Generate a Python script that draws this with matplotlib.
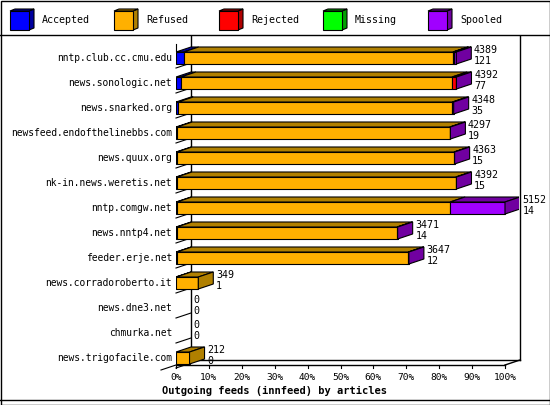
import matplotlib
matplotlib.use("Agg")
import matplotlib.pyplot as plt
from matplotlib.patches import Polygon, Rectangle

hosts = ["nntp.club.cc.cmu.edu", "news.sonologic.net", "news.snarked.org",
         "newsfeed.endofthelinebbs.com", "news.quux.org", "nk-in.news.weretis.net",
         "nntp.comgw.net", "news.nntp4.net", "feeder.erje.net",
         "news.corradoroberto.it", "news.dne3.net", "chmurka.net", "news.trigofacile.com"]
offered = [4389, 4392, 4348, 4297, 4363, 4392, 5152, 3471, 3647, 349, 0, 0, 212]
accepted = [121, 77, 35, 19, 15, 15, 14, 14, 12, 1, 0, 0, 0]
rejected = [10, 60, 0, 0, 0, 0, 0, 0, 0, 0, 0, 0, 0]
missing = [0] * 13
spooled = [43, 10, 20, 10, 10, 10, 860, 10, 10, 0, 0, 0, 0]
refused = [o - a - r - m - s for o, a, r, m, s in zip(offered, accepted, rejected, missing, spooled)]

names = ["Accepted", "Refused", "Rejected", "Missing", "Spooled"]
front = ["#0000ff", "#ffb000", "#ff0000", "#00ff00", "#a000ff"]
dark = ["#0000a0", "#b08000", "#b00000", "#00a000", "#7000a0"]
xticks = list(range(0, 101, 10))

W, H = 550, 405
fig = plt.figure(figsize=(W / 100, H / 100), dpi=100)
fig.patch.set_facecolor("white")
mono = "DejaVu Sans Mono"

pa = fig.add_axes([0, 0, 1, 1])
pa.set_xlim(0, W); pa.set_ylim(H, 0); pa.axis("off")
pa.add_patch(Rectangle((0.5, 0.5), W - 1, H - 1, fill=False, ec="black", lw=1))
pa.plot([0, W], [35, 35], color="black", lw=1)
pa.plot([0, W], [400, 400], color="black", lw=1)
lx = [10, 114, 219, 323, 428]
for i in range(5):
    x0, y0, s, d = lx[i], 11, 19, 5
    pa.add_patch(Polygon([(x0 + s, y0), (x0 + s + d, y0 - 2), (x0 + s + d, y0 + s - 2), (x0 + s, y0 + s)],
                         fc=dark[i], ec="black", lw=0.8))
    pa.add_patch(Polygon([(x0, y0), (x0 + d, y0 - 2), (x0 + s + d, y0 - 2), (x0 + s, y0)],
                         fc=dark[i], ec="black", lw=0.8))
    pa.add_patch(Rectangle((x0, y0), s, s, fc=front[i], ec="black", lw=0.8))
    pa.text(x0 + 32, 20, names[i], family=mono, fontsize=7.2, va="center")
pa.text(275, 391, "Outgoing feeds (innfeed) by articles", family=mono, fontsize=7.5,
        fontweight="bold", ha="center", va="center")

x_left, x_right = 176, 519
top_px, bot_px = 40, 365
ax = fig.add_axes([x_left / W, 1 - bot_px / H, (x_right - x_left) / W, (bot_px - top_px) / H])
pxpp = 3.29
ax.set_xlim(0, (x_right - x_left) / pxpp)
ax.set_ylim((bot_px - 58) / 25, (top_px - 58) / 25)
ax.axis("off")
ax.patch.set_alpha(0)
dx, dy = 15 / pxpp, 5 / 25
n = len(hosts)
mx = max(offered)

yb = (365 - 58) / 25
ytop = (36 - 58) / 25
ax.plot([dx, dx], [ytop, yb - dy], color="black", lw=1, clip_on=False)
ax.plot([100 + dx, 100 + dx], [ytop, yb - dy], color="black", lw=1, clip_on=False)
ax.plot([0, 100], [yb, yb], color="black", lw=1, clip_on=False)
ax.plot([dx, 100 + dx], [yb - dy, yb - dy], color="black", lw=1, clip_on=False)
ax.plot([100, 100 + dx], [yb, yb - dy], color="black", lw=1, clip_on=False)
ax.plot([-dx, dx], [yb + dy, yb - dy], color="black", lw=0.8, clip_on=False)
ax.plot([0, 0], [ytop + 0.3, -0.3], color="black", lw=0.8, clip_on=False)
for k in range(n):
    yy = k + 0.4
    ax.plot([0, dx], [yy, yy - dy], color="black", lw=0.8, clip_on=False)
for t in xticks:
    ax.plot([t, t], [yb, yb + 0.12], color="black", lw=0.8, clip_on=False)
    ax.text(t, yb + 0.5, f"{t}%", family=mono, fontsize=6.8, ha="center", va="center")

h = 0.48
for i in range(n):
    segs = [accepted[i], refused[i], rejected[i], missing[i], spooled[i]]
    left = 0
    last = None
    for j, v in enumerate(segs):
        if v <= 0:
            continue
        w = v / mx * 100
        ax.barh(i, w, left=left, height=h, color=front[j], edgecolor="black", lw=0.8, zorder=3)
        yt = i - h / 2
        ax.add_patch(Polygon([(left, yt), (left + dx, yt - dy), (left + w + dx, yt - dy), (left + w, yt)],
                             fc=dark[j], ec="black", lw=0.8, zorder=3))
        left += w
        last = j
    if last is not None:
        yt = i - h / 2
        ax.add_patch(Polygon([(left, yt), (left + dx, yt - dy), (left + dx, yt - dy + h), (left, yt + h)],
                             fc=dark[last], ec="black", lw=0.8, zorder=3))
    end = left + dx + 0.8
    ax.text(end, i - 0.33, str(offered[i]), family=mono, fontsize=7.2, va="center", clip_on=False)
    ax.text(end, i + 0.12, str(accepted[i]), family=mono, fontsize=7.2, va="center", clip_on=False)
    pa.text(172, 58 + 25 * i, hosts[i], family=mono, fontsize=6.9, ha="right", va="center")

fig.savefig("out.png", dpi=100)
